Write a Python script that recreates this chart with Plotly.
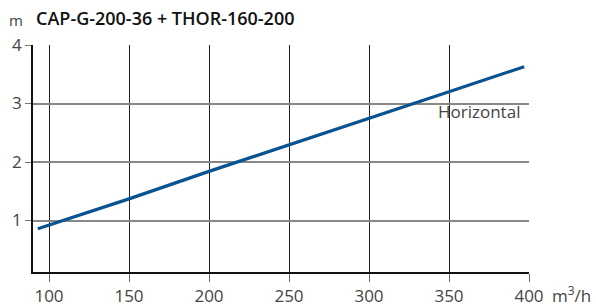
import plotly.graph_objects as go

flow = [93, 150, 200, 250, 300, 350, 397]
head = [0.86, 1.37, 1.84, 2.29, 2.75, 3.20, 3.63]
x_ticks = [100, 150, 200, 250, 300, 350, 400]
y_ticks = [1, 2, 3, 4]
title = "CAP-G-200-36 + THOR-160-200"
curve_label = "Horizontal"

L, R, T, B = 33, 67, 45, 35
W, H = 596, 307

fig = go.Figure()
fig.add_trace(go.Scatter(x=flow, y=head, mode="lines",
                         line=dict(color="#0a5391", width=3.2), hoverinfo="skip"))

font = "Open Sans, Noto Sans, sans-serif"
fig.update_layout(
    width=W, height=H,
    margin=dict(l=L, r=R, t=T, b=B, autoexpand=False),
    paper_bgcolor="white", plot_bgcolor="white",
    showlegend=False,
    font=dict(family=font, size=17, color="#444"),
    xaxis=dict(range=[90, 400], tickvals=x_ticks, showgrid=True,
               gridcolor="#222", gridwidth=1, zeroline=False,
               showline=True, linecolor="#111", linewidth=1.5,
               ticks="outside", ticklen=8, tickcolor="#666",
               automargin=False,
               tickfont=dict(size=17, color="#444")),
    yaxis=dict(range=[0.12, 4], tickvals=y_ticks, showgrid=True,
               gridcolor="#888", gridwidth=1.5, zeroline=False,
               showline=True, linecolor="#111", linewidth=1.5,
               ticks="outside", ticklen=6, tickcolor="#777",
               automargin=False,
               tickfont=dict(size=17, color="#444")),
)

pw, ph = W - L - R, H - T - B


def px(x):
    return (x - L) / pw


def py(y):
    return 1 - (y - T) / ph


fig.add_annotation(text=title, x=px(34), y=py(18), xref="paper", yref="paper",
                   xanchor="left", yanchor="middle", showarrow=False,
                   font=dict(size=18, color="#111",
                             family="Open Sans SemiBold, Open Sans, sans-serif"))
fig.add_annotation(text="m", x=px(7), y=py(20), xref="paper", yref="paper",
                   xanchor="left", yanchor="middle", showarrow=False,
                   font=dict(size=15, color="#444"))
fig.add_annotation(text="m<sup>3</sup>/h", x=px(550), y=py(294), xref="paper", yref="paper",
                   xanchor="left", yanchor="middle", showarrow=False,
                   font=dict(size=17, color="#444"))
fig.add_annotation(text=curve_label, x=395.5, y=2.86, xref="x", yref="y",
                   xanchor="right", yanchor="middle", showarrow=False,
                   font=dict(size=17, color="#444"))

fig.write_html("out.html", config={"displayModeBar": False},
               post_script="document.body.style.margin='0';document.body.style.overflow='hidden';")
